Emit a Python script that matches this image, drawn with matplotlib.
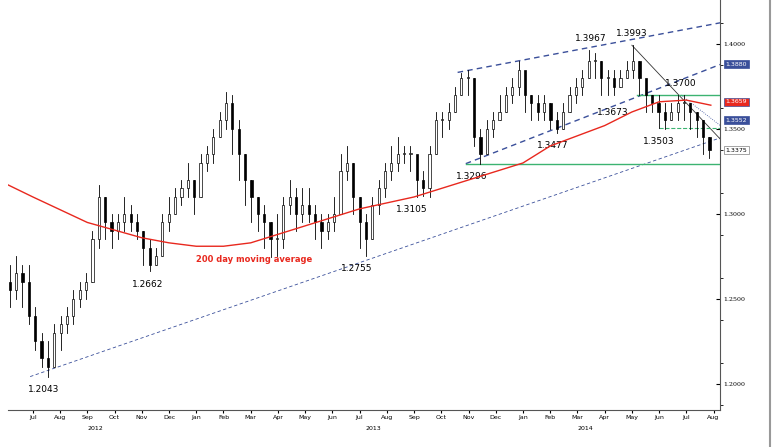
import numpy as np
import matplotlib.pyplot as plt
from matplotlib.patches import Rectangle

# weekly bars, Jun 2012 - Jul 2014 (month index: 0 = Jul 2012)
closes = [1.255, 1.265, 1.26, 1.24,
          1.225, 1.215, 1.21, 1.23,
          1.235, 1.24, 1.25, 1.255,
          1.26, 1.285, 1.31, 1.295,
          1.29, 1.295, 1.30, 1.295, 1.29,
          1.28, 1.27, 1.275, 1.295,
          1.30, 1.31, 1.315, 1.32,
          1.31, 1.33, 1.335, 1.345, 1.355,
          1.365, 1.35, 1.335, 1.32,
          1.31, 1.30, 1.295, 1.285,
          1.285, 1.305, 1.31, 1.30, 1.305,
          1.30, 1.295, 1.29, 1.295,
          1.30, 1.325, 1.33, 1.31,
          1.295, 1.285, 1.305, 1.315, 1.325,
          1.33, 1.335, 1.335, 1.335,
          1.32, 1.315, 1.335, 1.355,
          1.355, 1.36, 1.37, 1.38, 1.38,
          1.345, 1.335, 1.35, 1.355,
          1.36, 1.37, 1.375, 1.385,
          1.37, 1.365, 1.36, 1.365, 1.355,
          1.35, 1.36, 1.37, 1.375,
          1.38, 1.39, 1.39, 1.38,
          1.38, 1.375, 1.38, 1.385,
          1.39, 1.38, 1.37, 1.365,
          1.36, 1.355, 1.36, 1.365,
          1.365, 1.36, 1.355, 1.345, 1.3375]
highs = [1.27, 1.275, 1.27, 1.27,
         1.245, 1.23, 1.225, 1.235,
         1.24, 1.245, 1.255, 1.26,
         1.265, 1.29, 1.317, 1.31,
         1.30, 1.30, 1.31, 1.305, 1.30,
         1.29, 1.285, 1.28, 1.30,
         1.31, 1.315, 1.32, 1.33,
         1.32, 1.335, 1.34, 1.35, 1.36,
         1.372, 1.37, 1.355, 1.335,
         1.32, 1.31, 1.305, 1.295,
         1.30, 1.31, 1.32, 1.315, 1.315,
         1.315, 1.305, 1.30, 1.30,
         1.31, 1.335, 1.34, 1.33,
         1.31, 1.30, 1.31, 1.32, 1.33,
         1.34, 1.345, 1.34, 1.34,
         1.33, 1.325, 1.34, 1.36,
         1.36, 1.365, 1.375, 1.383, 1.385,
         1.38, 1.35, 1.355, 1.36,
         1.37, 1.375, 1.38, 1.39,
         1.38, 1.37, 1.37, 1.37, 1.365,
         1.36, 1.365, 1.375, 1.38,
         1.385, 1.3967, 1.395, 1.39,
         1.385, 1.385, 1.385, 1.39,
         1.3993, 1.39, 1.375, 1.37,
         1.37, 1.365, 1.365, 1.37,
         1.37, 1.365, 1.36, 1.355, 1.345]
lows = [1.245, 1.25, 1.245, 1.235,
        1.22, 1.21, 1.2043, 1.21,
        1.22, 1.23, 1.235, 1.245,
        1.25, 1.26, 1.28, 1.285,
        1.28, 1.285, 1.29, 1.29, 1.285,
        1.27, 1.2662, 1.27, 1.275,
        1.29, 1.30, 1.305, 1.31,
        1.30, 1.31, 1.325, 1.33, 1.345,
        1.35, 1.335, 1.32, 1.305,
        1.295, 1.29, 1.28, 1.2745,
        1.275, 1.28, 1.30, 1.29, 1.295,
        1.295, 1.285, 1.28, 1.285,
        1.29, 1.30, 1.32, 1.30,
        1.28, 1.2755, 1.285, 1.30, 1.31,
        1.32, 1.325, 1.33, 1.325,
        1.31, 1.3105, 1.31, 1.335,
        1.345, 1.35, 1.36, 1.37, 1.37,
        1.34, 1.3296, 1.335, 1.345,
        1.355, 1.36, 1.365, 1.37,
        1.36, 1.355, 1.355, 1.355, 1.35,
        1.3477, 1.35, 1.36, 1.365,
        1.37, 1.38, 1.38, 1.37,
        1.37, 1.37, 1.375, 1.38,
        1.38, 1.37, 1.36, 1.36,
        1.3503, 1.35, 1.355, 1.355,
        1.355, 1.35, 1.345, 1.335, 1.333]
first_open = 1.26

ma_t = [-0.9, 0, 2, 4, 5, 6, 7, 8, 9, 11, 12, 14, 16, 18, 19, 21, 22, 23, 24, 24.9]
ma_v = [1.317, 1.31, 1.295, 1.286, 1.283, 1.281, 1.281, 1.283, 1.288, 1.298, 1.303,
        1.31, 1.32, 1.33, 1.34, 1.352, 1.36, 1.366, 1.367, 1.364]

months = ['Jul', 'Aug', 'Sep', 'Oct', 'Nov', 'Dec', 'Jan', 'Feb', 'Mar', 'Apr', 'May', 'Jun',
          'Jul', 'Aug', 'Sep', 'Oct', 'Nov', 'Dec', 'Jan', 'Feb', 'Mar', 'Apr', 'May', 'Jun',
          'Jul', 'Aug']
years = ['2012', '2013', '2014']
year_pos = [2.3, 12.5, 20.3]

peaks = [(0.4, 1.2043, '1.2043', 'below'), (4.2, 1.2662, '1.2662', 'below'),
         (11.9, 1.2755, '1.2755', 'below'), (13.9, 1.3105, '1.3105', 'below'),
         (16.1, 1.3296, '1.3296', 'below'), (19.1, 1.3477, '1.3477', 'below'),
         (20.5, 1.3967, '1.3967', 'above'), (22.0, 1.3993, '1.3993', 'above'),
         (21.3, 1.3673, '1.3673', 'below'), (23.0, 1.3503, '1.3503', 'below'),
         (23.8, 1.3700, '1.3700', 'above')]
right_tags = [(1.3880, '1.3880', '#3a4f9a', 'white'), (1.3659, '1.3659', '#e8281e', 'white'),
              (1.3552, '1.3552', '#3a4f9a', 'white'), (1.3375, '1.3375', 'white', 'black')]

fig = plt.figure(figsize=(7.83, 4.47), dpi=100)
ax = fig.add_axes([0.01, 0.083, 0.91, 0.917])
t = np.linspace(-0.85, 24.85, len(closes))
opens = [first_open] + closes[:-1]
w = 0.08
for x, o, h, l, c in zip(t, opens, highs, lows, closes):
    ax.plot([x, x], [l, h], color='black', lw=0.6, zorder=3)
    fc = 'white' if c >= o else 'black'
    ax.add_patch(Rectangle((x - w / 2, min(o, c)), w, max(abs(c - o), 0.0008),
                           facecolor=fc, edgecolor='black', lw=0.5, zorder=4))

ax.plot(ma_t, ma_v, color='#e8281e', lw=1.0, zorder=5)
ax.text(6.0, 1.272, '200 day moving average', color='#e8281e', fontsize=6, fontweight='bold')

# trend lines
ax.plot([-0.1, 25.25], [1.2043, 1.3448], color='#3a4f9a', lw=0.6, ls=(0, (4, 3)))
ax.plot([15.6, 25.25], [1.3833, 1.4125], color='#3a4f9a', lw=1.0, ls=(0, (4, 3)))
ax.plot([15.9, 25.25], [1.3296, 1.3880], color='#3a4f9a', lw=1.0, ls=(0, (4, 3)))
ax.plot([22.0, 25.25], [1.3993, 1.3440], color='#333333', lw=0.6)
ax.plot([23.8, 25.25], [1.3700, 1.3520], color='#3a4f9a', lw=0.6, ls=':')
ax.plot([15.9, 25.25], [1.3296, 1.3296], color='#3cb371', lw=1.0)
ax.plot([22.2, 25.25], [1.3700, 1.3700], color='#3cb371', lw=1.0)
ax.plot([23.0, 25.25], [1.3503, 1.3503], color='#3cb371', lw=0.8, ls='--')

for x, y, s, pos in peaks:
    off = -0.005 if pos == 'below' else 0.004
    ax.text(x, y + off, s, fontsize=6.5, ha='center', va='top' if pos == 'below' else 'bottom')

for y, s, fc, tc in right_tags:
    ax.text(25.45, y, s, fontsize=4.5, color=tc, va='center', ha='left',
            bbox=dict(boxstyle='square,pad=0.25', fc=fc, ec='#3a4f9a' if fc != 'white' else 'gray', lw=0.5))

ax.set_xlim(-0.92, 25.25)
ax.set_ylim(1.1847, 1.4259)
ax.yaxis.tick_right()
ax.set_yticks([1.20, 1.25, 1.30, 1.35, 1.40])
ax.set_yticklabels(['1.2000', '1.2500', '1.3000', '1.3500', '1.4000'], fontsize=4.5, family='serif')
ax.set_yticks(np.arange(1.1875, 1.425, 0.025), minor=True)
ax.tick_params(axis='y', length=3, direction='in', pad=2)
ax.set_xticks(np.arange(len(months)))
ax.set_xticklabels(months, fontsize=4.5)
ax.tick_params(axis='x', length=2, pad=2)
for x, s in zip(year_pos, years):
    ax.text(x, -0.05, s, transform=ax.get_xaxis_transform(), fontsize=4.5, ha='center')
for sp in ['top', 'left']:
    ax.spines[sp].set_visible(False)
for sp in ['right', 'bottom']:
    ax.spines[sp].set_color('#555555')
fig.add_artist(plt.Line2D([0.983, 0.983], [0, 1], color='#999999', lw=1.5))
fig.savefig('out.png', dpi=100)
